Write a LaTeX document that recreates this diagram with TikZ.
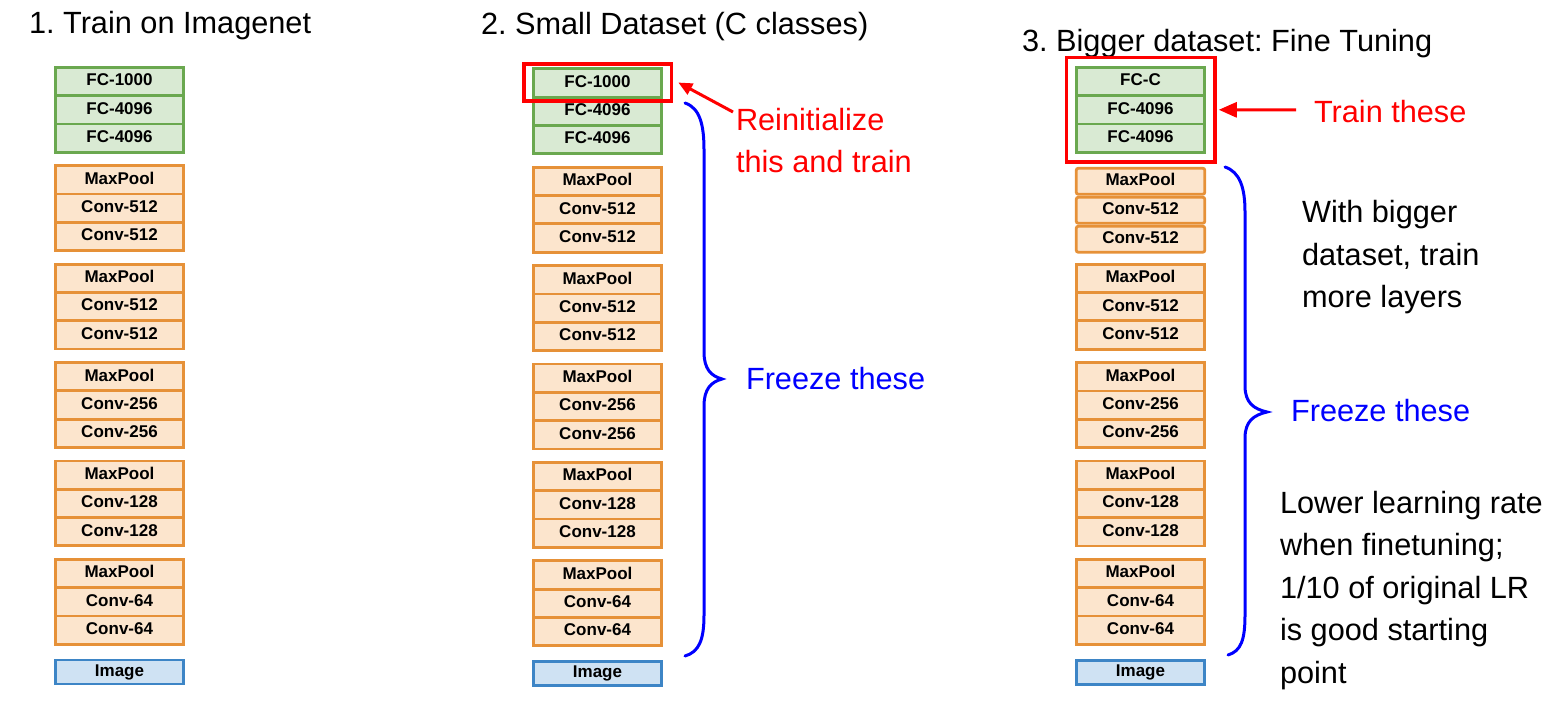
\documentclass[tikz,border=0pt]{standalone}
\usepackage{fontspec}
\setmainfont{Liberation Sans}
\usepackage{xcolor}
\usetikzlibrary{arrows.meta,positioning,fit}
\definecolor{fcline}{HTML}{6AA84F}
\definecolor{fcfill}{HTML}{D9EAD3}
\definecolor{convline}{HTML}{E69138}
\definecolor{convfill}{HTML}{FCE5CD}
\definecolor{imgline}{HTML}{3D85C6}
\definecolor{imgfill}{HTML}{CFE2F3}
\definecolor{markred}{HTML}{FF0000}
\definecolor{markblue}{HTML}{0000FF}
\frenchspacing

\begin{document}
\begin{tikzpicture}[
  x=1pt, y=-1pt,
  every node/.style={inner sep=0pt, outer sep=0pt},
  layer/.style={rectangle, line width=2.8pt, minimum width=128.5pt, minimum height=28.3pt,
    text height=12.2pt, text depth=3.5pt, font=\fontsize{17}{20}\selectfont\bfseries},
  fcbox/.style={layer, draw=fcline, fill=fcfill},
  convbox/.style={layer, draw=convline, fill=convfill},
  sepbox/.style={convbox, minimum height=26pt, rounded corners=2pt},
  imgbox/.style={layer, draw=imgline, fill=imgfill, minimum height=24pt},
  title/.style={anchor=base west, font=\fontsize{30.7}{36}\selectfont},
  note/.style={anchor=base west, align=left, font=\fontsize{30.7}{42.5}\selectfont},
  redbox/.style={rectangle, draw=markred, line width=3.5pt},
  redarrow/.style={-{Triangle[length=14pt, width=12pt]}, line width=3pt, markred},
  freezebrace/.style={draw=markblue, line width=3pt, line cap=round},
]
\useasboundingbox (0,0) rectangle (1554,708);

% 1. Train on Imagenet
\node[title] (t1) at (29,33.5) {1. Train on Imagenet};
\node[fcbox] (a1) at (119.5,81.5) {FC-1000};
\node[fcbox, below=0pt of a1] (a2) {FC-4096};
\node[fcbox, below=0pt of a2] (a3) {FC-4096};
\node[convbox, below=13.5pt of a3] (a4) {MaxPool};
\node[convbox, below=0pt of a4] (a5) {Conv-512};
\node[convbox, below=0pt of a5] (a6) {Conv-512};
\node[convbox, below=13.5pt of a6] (a7) {MaxPool};
\node[convbox, below=0pt of a7] (a8) {Conv-512};
\node[convbox, below=0pt of a8] (a9) {Conv-512};
\node[convbox, below=13.5pt of a9] (a10) {MaxPool};
\node[convbox, below=0pt of a10] (a11) {Conv-256};
\node[convbox, below=0pt of a11] (a12) {Conv-256};
\node[convbox, below=13.5pt of a12] (a13) {MaxPool};
\node[convbox, below=0pt of a13] (a14) {Conv-128};
\node[convbox, below=0pt of a14] (a15) {Conv-128};
\node[convbox, below=13.5pt of a15] (a16) {MaxPool};
\node[convbox, below=0pt of a16] (a17) {Conv-64};
\node[convbox, below=0pt of a17] (a18) {Conv-64};
\node[imgbox, below=15.8pt of a18] (aimg) {Image};

% 2. Small dataset
\node[title] (t2) at (481,35) {2. Small Dataset (C classes)};
\node[fcbox] (b1) at (597.5,83) {FC-1000};
\node[fcbox, below=0pt of b1] (b2) {FC-4096};
\node[fcbox, below=0pt of b2] (b3) {FC-4096};
\node[convbox, below=13.5pt of b3] (b4) {MaxPool};
\node[convbox, below=0pt of b4] (b5) {Conv-512};
\node[convbox, below=0pt of b5] (b6) {Conv-512};
\node[convbox, below=13.5pt of b6] (b7) {MaxPool};
\node[convbox, below=0pt of b7] (b8) {Conv-512};
\node[convbox, below=0pt of b8] (b9) {Conv-512};
\node[convbox, below=13.5pt of b9] (b10) {MaxPool};
\node[convbox, below=0pt of b10] (b11) {Conv-256};
\node[convbox, below=0pt of b11] (b12) {Conv-256};
\node[convbox, below=13.5pt of b12] (b13) {MaxPool};
\node[convbox, below=0pt of b13] (b14) {Conv-128};
\node[convbox, below=0pt of b14] (b15) {Conv-128};
\node[convbox, below=13.5pt of b15] (b16) {MaxPool};
\node[convbox, below=0pt of b16] (b17) {Conv-64};
\node[convbox, below=0pt of b17] (b18) {Conv-64};
\node[imgbox, below=15.8pt of b18] (bimg) {Image};

\node[redbox, fit={([xshift=-9.5pt,yshift=5pt]b1.north west) ([xshift=9.5pt,yshift=-4pt]b1.south east)}] (bsel) {};
\node[note, text=markred] (reinit) at (736,173) {Reinitialize\\this and train};
\coordinate (rtail) at (733,112);
\draw[redarrow] (rtail) -- ([xshift=7pt]bsel.east);

\draw[freezebrace] (685,103) .. controls (700,108) and (704,125) .. (704,150)
  -- (704,352) .. controls (704,369) and (711,376) .. (722,379)
  .. controls (711,382) and (704,389) .. (704,406)
  -- (704,615) .. controls (704,640) and (699,652) .. (685,656);
\node[note, text=markblue] (freeze2) at (746,389) {Freeze these};

% 3. Bigger dataset
\node[title] (t3) at (1022,52) {3. Bigger dataset: Fine Tuning};
\node[fcbox] (c1) at (1140.5,81.5) {FC-C};
\node[fcbox, below=0pt of c1] (c2) {FC-4096};
\node[fcbox, below=0pt of c2] (c3) {FC-4096};
\node[sepbox, below=16pt of c3] (c4) {MaxPool};
\node[sepbox, below=3pt of c4] (c5) {Conv-512};
\node[sepbox, below=3pt of c5] (c6) {Conv-512};
\node[convbox, below=12pt of c6] (c7) {MaxPool};
\node[convbox, below=0pt of c7] (c8) {Conv-512};
\node[convbox, below=0pt of c8] (c9) {Conv-512};
\node[convbox, below=13.5pt of c9] (c10) {MaxPool};
\node[convbox, below=0pt of c10] (c11) {Conv-256};
\node[convbox, below=0pt of c11] (c12) {Conv-256};
\node[convbox, below=13.5pt of c12] (c13) {MaxPool};
\node[convbox, below=0pt of c13] (c14) {Conv-128};
\node[convbox, below=0pt of c14] (c15) {Conv-128};
\node[convbox, below=13.5pt of c15] (c16) {MaxPool};
\node[convbox, below=0pt of c16] (c17) {Conv-64};
\node[convbox, below=0pt of c17] (c18) {Conv-64};
\node[imgbox, below=15.8pt of c18] (cimg) {Image};

\node[redbox, fit=(c1)(c3), inner sep=10pt] (csel) {};
\node[note, text=markred] (trainthese) at (1314,123) {Train these};
\coordinate (ttail) at (1296,110);
\draw[redarrow, -{Triangle[length=18pt, width=15pt]}] (ttail) -- ([xshift=4pt]csel.east);

\draw[freezebrace] (1225,167) .. controls (1240,172) and (1245,188) .. (1245,212)
  -- (1245,386) .. controls (1245,403) and (1254,409) .. (1267,412)
  .. controls (1254,415) and (1245,421) .. (1245,438)
  -- (1245,615) .. controls (1245,640) and (1241,651) .. (1228,655);
\node[note, text=markblue] (freeze3) at (1291,421) {Freeze these};

\node[note] (bigger) at (1302,308) {With bigger\\dataset, train\\more layers};
\node[note] (lowerlr) at (1280,683) {Lower learning rate\\when finetuning;\\1/10 of original LR\\is good starting\\point};
\end{tikzpicture}
\end{document}
